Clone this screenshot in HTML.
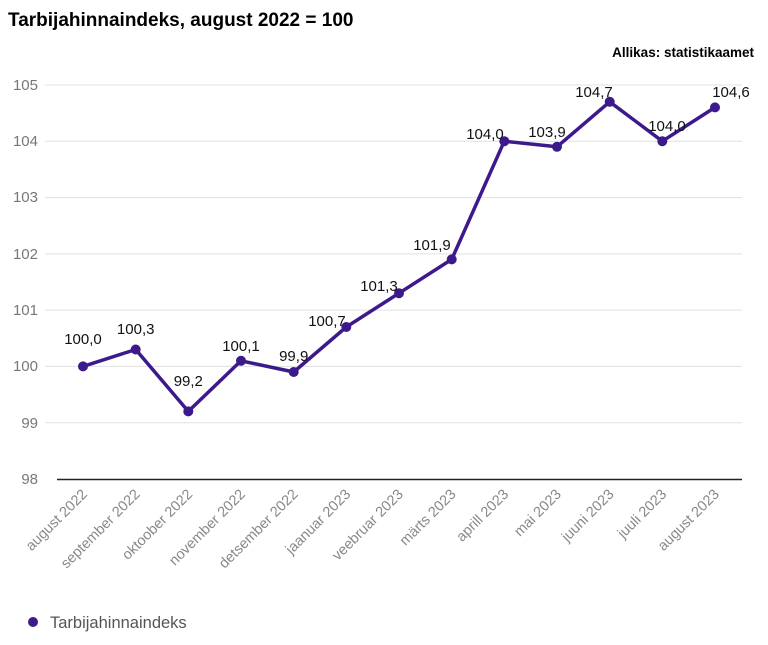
<!DOCTYPE html>
<html><head><meta charset="utf-8"><style>
body{margin:0;background:#fff;width:768px;height:640px;overflow:hidden;font-family:"Liberation Sans",sans-serif}
</style></head><body>
<svg width="768" height="640" viewBox="0 0 768 640" xmlns="http://www.w3.org/2000/svg" font-family="Liberation Sans, sans-serif">
<text x="8" y="26" font-size="19" font-weight="bold" fill="#000">Tarbijahinnaindeks, august 2022 = 100</text>
<text x="754" y="57" font-size="13.5" font-weight="bold" fill="#000" text-anchor="end">Allikas: statistikaamet</text>
<g stroke="#e0e0e0" stroke-width="1">
<line x1="45" x2="742" y1="85" y2="85"/><line x1="45" x2="742" y1="141.3" y2="141.3"/>
<line x1="45" x2="742" y1="197.6" y2="197.6"/><line x1="45" x2="742" y1="253.9" y2="253.9"/>
<line x1="45" x2="742" y1="310.1" y2="310.1"/><line x1="45" x2="742" y1="366.4" y2="366.4"/>
<line x1="45" x2="742" y1="422.7" y2="422.7"/>
</g>
<line x1="57" x2="742" y1="479.5" y2="479.5" stroke="#222" stroke-width="1.5"/>
<g font-size="15" fill="#777" text-anchor="end">
<text x="38" y="90">105</text><text x="38" y="146">104</text><text x="38" y="202">103</text>
<text x="38" y="259">102</text><text x="38" y="315">101</text><text x="38" y="371">100</text>
<text x="38" y="428">99</text><text x="38" y="484">98</text>
</g>
<g font-size="14.5" fill="#888" text-anchor="end">
<text transform="translate(88,495) rotate(-45)">august 2022</text>
<text transform="translate(140.7,495) rotate(-45)">september 2022</text>
<text transform="translate(193.3,495) rotate(-45)">oktoober 2022</text>
<text transform="translate(246,495) rotate(-45)">november 2022</text>
<text transform="translate(298.7,495) rotate(-45)">detsember 2022</text>
<text transform="translate(351.3,495) rotate(-45)">jaanuar 2023</text>
<text transform="translate(404,495) rotate(-45)">veebruar 2023</text>
<text transform="translate(456.7,495) rotate(-45)">märts 2023</text>
<text transform="translate(509.3,495) rotate(-45)">aprill 2023</text>
<text transform="translate(562,495) rotate(-45)">mai 2023</text>
<text transform="translate(614.7,495) rotate(-45)">juuni 2023</text>
<text transform="translate(667.3,495) rotate(-45)">juuli 2023</text>
<text transform="translate(720,495) rotate(-45)">august 2023</text>
</g>
<polyline fill="none" stroke="#3d1a8c" stroke-width="3.5" stroke-linejoin="round" points="83,366.4 135.7,349.5 188.3,411.4 241,360.8 293.7,372 346.3,327 399,293.2 451.7,259.4 504.3,141.2 557,146.8 609.7,101.8 662.3,141.2 715,107.4"/>
<g fill="#3d1a8c">
<circle cx="83" cy="366.4" r="5"/><circle cx="135.7" cy="349.5" r="5"/><circle cx="188.3" cy="411.4" r="5"/>
<circle cx="241" cy="360.8" r="5"/><circle cx="293.7" cy="372" r="5"/><circle cx="346.3" cy="327" r="5"/>
<circle cx="399" cy="293.2" r="5"/><circle cx="451.7" cy="259.4" r="5"/><circle cx="504.3" cy="141.2" r="5"/>
<circle cx="557" cy="146.8" r="5"/><circle cx="609.7" cy="101.8" r="5"/><circle cx="662.3" cy="141.2" r="5"/>
<circle cx="715" cy="107.4" r="5"/>
</g>
<g font-size="15" fill="#111" text-anchor="middle">
<text x="83" y="344">100,0</text><text x="135.7" y="334">100,3</text><text x="188.3" y="386">99,2</text>
<text x="241" y="351">100,1</text><text x="293.7" y="361">99,9</text><text x="327" y="326">100,7</text>
<text x="379" y="291">101,3</text><text x="432" y="250">101,9</text><text x="485" y="139">104,0</text>
<text x="547" y="137">103,9</text><text x="594" y="97">104,7</text><text x="667" y="131">104,0</text>
<text x="731" y="97">104,6</text>
</g>
<circle cx="33" cy="622" r="5" fill="#3d1a8c"/>
<text x="50" y="628" font-size="16.5" fill="#555">Tarbijahinnaindeks</text>
</svg>
</body></html>
